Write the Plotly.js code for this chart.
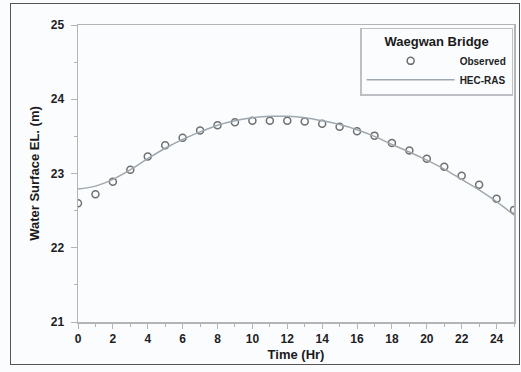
<!DOCTYPE html>
<html>
<head>
<meta charset="utf-8">
<script src="https://cdn.plot.ly/plotly-3.0.1.min.js"></script>
<style>
  html, body { margin: 0; padding: 0; background: #fbfcfe; }
  #frame { position: absolute; left: 10px; top: 3px; width: 508px; height: 360px; border: 1.5px solid #555; }
  #chart { position: absolute; left: 0; top: 0; width: 521px; height: 372px; }
</style>
</head>
<body>
<div id="frame"></div>
<div id="chart"></div>
<script>
const hours = [0,1,2,3,4,5,6,7,8,9,10,11,12,13,14,15,16,17,18,19,20,21,22,23,24,25];
const observed = [22.60,22.72,22.89,23.05,23.23,23.38,23.48,23.58,23.65,23.69,23.71,23.71,23.71,23.70,23.67,23.63,23.57,23.51,23.41,23.31,23.20,23.09,22.97,22.85,22.66,22.51];
const hecras = [22.79,22.83,22.92,23.05,23.20,23.34,23.46,23.56,23.65,23.71,23.75,23.77,23.77,23.75,23.71,23.66,23.59,23.50,23.39,23.29,23.18,23.06,22.92,22.78,22.62,22.44];
const xTicks = [0,2,4,6,8,10,12,14,16,18,20,22,24];
const yTicks = [21,22,23,24,25];

const font = 'Liberation Sans, Arial, sans-serif';
const axisColor = '#b4b4b4';

const traces = [
  {
    x: hours, y: observed, name: 'Observed', type: 'scatter', mode: 'markers',
    marker: { symbol: 'circle-open', size: 7, color: '#6f6f6f', line: { width: 1.5, color: '#6f6f6f' } }
  },
  {
    x: hours, y: hecras, name: 'HEC-RAS', type: 'scatter', mode: 'lines',
    line: { shape: 'spline', color: '#9ea8ae', width: 1.5 }
  }
];

const layout = {
  width: 521, height: 372,
  margin: { l: 78, r: 7, t: 25, b: 50 },
  paper_bgcolor: 'rgba(0,0,0,0)',
  plot_bgcolor: 'rgba(0,0,0,0)',
  font: { family: font, color: '#1e1e1e', size: 12 },
  showlegend: true,
  legend: {
    x: 0.998, xanchor: 'right', y: 0.99, yanchor: 'top',
    bgcolor: 'rgba(0,0,0,0)', bordercolor: '#bcc0c4', borderwidth: 1.5,
    title: { text: '<b>Waegwan Bridge</b>', side: 'top center', font: { family: font, size: 13, color: '#1a1a1a' } },
    font: { family: font, size: 10, color: '#1e1e1e', weight: 'bold' },
    itemwidth: 88, tracegroupgap: 0
  },
  xaxis: {
    range: [0, 25], tickvals: xTicks, ticktext: xTicks.map(String),
    ticks: 'outside', ticklen: 5, tickwidth: 1, tickcolor: axisColor,
    minor: { tickvals: [1,3,5,7,9,11,13,15,17,19,21,23,25], ticks: 'outside', ticklen: 3, tickcolor: axisColor },
    showline: true, linecolor: axisColor, linewidth: 1.5, mirror: true,
    showgrid: false, zeroline: false,
    tickfont: { family: font, size: 12, weight: 'bold', color: '#1e1e1e' },
    title: { text: '<b>Time (Hr)</b>', font: { family: font, size: 13, color: '#1a1a1a' }, standoff: 5 }
  },
  yaxis: {
    range: [21, 25], tickvals: yTicks, ticktext: yTicks.map(String),
    ticks: 'outside', ticklen: 6, tickwidth: 1, tickcolor: axisColor,
    minor: { tickvals: [21.5,22.5,23.5,24.5], ticks: 'outside', ticklen: 3, tickcolor: axisColor },
    showline: true, linecolor: axisColor, linewidth: 1.5, mirror: true,
    showgrid: false, zeroline: false,
    tickfont: { family: font, size: 12, weight: 'bold', color: '#1e1e1e' },
    ticklabelstandoff: 4,
    title: { text: '<b>Water Surface EL. (m)</b>', font: { family: font, size: 13, color: '#1a1a1a' }, standoff: 8 }
  }
};

Plotly.newPlot('chart', traces, layout, { displayModeBar: false, staticPlot: true });
</script>
</body>
</html>
